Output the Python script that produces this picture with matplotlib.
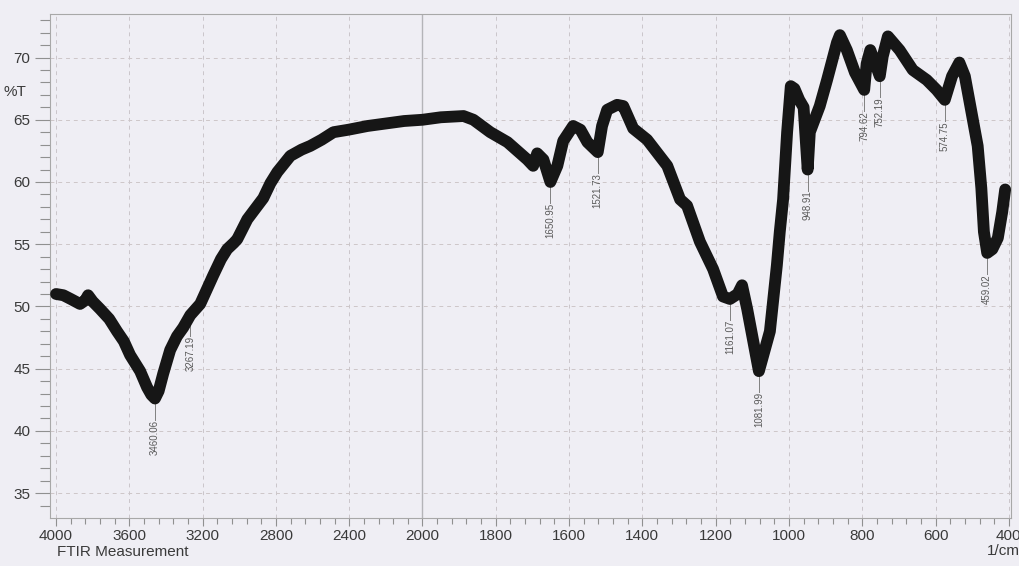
import numpy as np
import matplotlib.pyplot as plt
from matplotlib.ticker import FixedLocator

plt.rcParams['font.family'] = ['Liberation Sans', 'DejaVu Sans']

# Spectrum trace: wavenumber (1/cm) and transmittance (%T)
wavenumber = [
    4000, 3960, 3920, 3869, 3840, 3825, 3800, 3760, 3710, 3667,
    3630, 3596, 3541, 3503, 3480, 3460.06, 3440, 3415, 3377, 3340,
    3306, 3267.19, 3213, 3142, 3100, 3066, 3030, 3011, 2956, 2910,
    2869, 2830, 2792, 2721, 2660, 2612, 2550, 2486, 2404, 2300,
    2200, 2100, 2000, 1950, 1888, 1861, 1815, 1768, 1714, 1698,
    1687, 1670, 1650.95, 1632, 1616, 1589, 1569, 1550, 1521.73, 1510,
    1496, 1469, 1452, 1425, 1387, 1332, 1297, 1278, 1243, 1207,
    1180, 1161.07, 1140, 1128, 1114, 1081.99, 1052, 1033, 1025, 1016,
    1005, 995, 985, 972, 960, 948.91, 943, 916, 896, 869,
    861, 842, 820, 794.62, 788, 778, 768, 752.19, 744, 730,
    698, 662, 624, 597, 574.75, 555, 535, 520, 500, 485,
    475, 468, 459.02, 445, 430, 418, 410,
]
transmittance = [
    51.0, 50.9, 50.6, 50.2, 50.5, 50.9, 50.4, 49.8, 49.0, 48.0,
    47.2, 46.1, 44.8, 43.5, 42.9, 42.6, 43.2, 44.6, 46.5, 47.6,
    48.3, 49.3, 50.2, 52.5, 53.8, 54.6, 55.1, 55.4, 57.0, 57.9,
    58.7, 59.9, 60.8, 62.1, 62.6, 62.9, 63.4, 64.0, 64.2, 64.5,
    64.7, 64.9, 65.0, 65.2, 65.3, 65.0, 64.0, 63.2, 61.8, 61.3,
    62.3, 61.8, 60.0, 61.3, 63.3, 64.5, 64.2, 63.2, 62.4, 64.5,
    65.8, 66.2, 66.1, 64.3, 63.4, 61.3, 58.6, 58.1, 55.2, 53.0,
    50.8, 50.6, 51.0, 51.7, 49.8, 44.8, 48.0, 53.3, 56.0, 58.6,
    64.0, 67.7, 67.5, 66.6, 66.0, 61.0, 64.0, 66.1, 68.2, 71.2,
    71.8, 70.6, 68.8, 67.4, 69.5, 70.6, 69.8, 68.5, 70.1, 71.7,
    70.6, 69.0, 68.2, 67.4, 66.6, 68.5, 69.6, 68.5, 65.3, 62.9,
    59.5, 56.0, 54.3, 54.6, 55.5, 57.6, 59.4,
]

# Marked absorption bands
peaks = [3460.06, 3267.19, 1650.95, 1521.73, 1161.07, 1081.99,
         948.91, 794.62, 752.19, 574.75, 459.02]

x_major = [4000, 3600, 3200, 2800, 2400, 2000, 1800, 1600, 1400,
           1200, 1000, 800, 600, 400]
y_major = [35, 40, 45, 50, 55, 60, 65, 70]


# the region above 2000 1/cm is drawn at half scale
def fwd(w):
    w = np.asarray(w, dtype=float)
    return np.where(w > 2000, 2000 + (w - 2000) / 2, w)


def inv(v):
    v = np.asarray(v, dtype=float)
    return np.where(v > 2000, 2000 + (v - 2000) * 2, v)


paper = '#efeef4'
ink = '#3a3a3a'
fig = plt.figure(figsize=(10.2, 5.66), dpi=100, facecolor=paper)
ax = fig.add_axes([0.049, 0.0848, 0.9422, 0.8905], facecolor=paper)

ax.set_xscale('function', functions=(fwd, inv))
ax.set_xlim(4033, 394)
ax.set_ylim(33, 73.5)

# grid
for w in x_major:
    if w == 2000:
        ax.axvline(w, color='#b4b4b8', lw=1.0, zorder=1)
    else:
        ax.axvline(w, color='#cac5ca', lw=0.7, ls=(0, (4, 4)), zorder=1)
for t in y_major:
    ax.axhline(t, color='#cdc6c8', lw=0.7, ls=(0, (4, 4)), zorder=1)

ax.plot(wavenumber, transmittance, color='#161616', lw=8.5,
        solid_joinstyle='round', solid_capstyle='round', zorder=3)

# peak labels with leader lines
wn_asc = np.array(wavenumber)[::-1]
t_asc = np.array(transmittance)[::-1]
for p in peaks:
    v = np.interp(p, wn_asc, t_asc)
    ax.plot([p, p], [v, v - 1.7], color='#808080', lw=0.7, zorder=2)
    ax.text(p, v - 1.7, f'{p:.2f}', rotation=90, ha='center', va='top',
            fontsize=7, color='#5a5a5a', zorder=2)

# axes and ticks
ax.xaxis.set_major_locator(FixedLocator(x_major))
minor_x = [w for w in range(2080, 4000, 80) if w % 400]
minor_x += [w for w in range(440, 2000, 40) if w % 200]
ax.xaxis.set_minor_locator(FixedLocator(minor_x))
ax.set_xticklabels([str(w) for w in x_major])
ax.yaxis.set_major_locator(FixedLocator(y_major))
ax.yaxis.set_minor_locator(FixedLocator([t for t in range(34, 74) if t % 5]))

ax.tick_params(axis='both', which='both', direction='out', color='#909090',
               labelcolor=ink, labelsize=11)
ax.tick_params(axis='y', which='major', length=11, width=0.8, pad=3)
ax.tick_params(axis='y', which='minor', length=7, width=0.8)
ax.tick_params(axis='x', which='major', length=6, width=0.8, pad=2)
ax.tick_params(axis='x', which='minor', length=4, width=0.8)
for side in ax.spines.values():
    side.set_color('#a8a8a8')
    side.set_linewidth(0.8)

fig.text(0.003, 1 - 92 / 566, '%T', fontsize=11, color=ink,
         va='center', ha='left')
fig.text(57 / 1020, 1 - 552 / 566, 'FTIR Measurement', fontsize=11,
         color=ink, va='center', ha='left')
fig.text(1.0, 1 - 551 / 566, '1/cm', fontsize=11, color=ink,
         va='center', ha='right')

fig.savefig('out.png', dpi=100, facecolor=paper)
